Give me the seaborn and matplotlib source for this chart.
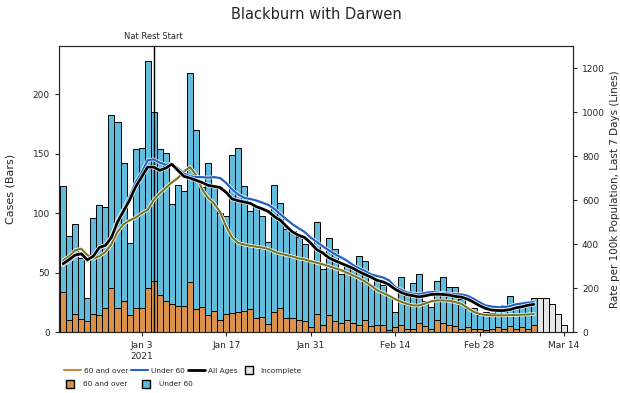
import pandas as pd
import matplotlib
matplotlib.use('Agg')
import matplotlib.pyplot as plt
import matplotlib.patheffects as pe
from matplotlib.lines import Line2D
import seaborn as sns

# daily cases, 21 Dec 2020 .. 14 Mar 2021 (last 5 days incomplete)
dates = pd.date_range('2020-12-21', '2021-03-14', freq='D')

over60_cases = [34, 10, 15, 11, 9, 15, 14, 20, 37, 20, 26, 14, 20, 20, 37, 43, 31, 26, 24, 22,
                22, 42, 19, 21, 14, 18, 10, 15, 16, 17, 18, 19, 12, 13, 7, 17, 20, 12, 12, 10,
                9, 4, 15, 6, 14, 9, 8, 10, 8, 6, 10, 5, 6, 6, 2, 4, 6, 3, 3, 8,
                5, 3, 10, 8, 6, 5, 3, 4, 3, 3, 2, 3, 4, 3, 5, 3, 4, 3, 6]
under60_cases = [89, 71, 76, 51, 20, 81, 93, 85, 146, 157, 116, 61, 134, 135, 191, 142, 123, 125, 84, 102,
                 97, 176, 151, 101, 128, 104, 90, 83, 133, 138, 105, 83, 94, 85, 69, 107, 89, 75, 73, 70,
                 65, 55, 78, 47, 65, 61, 41, 46, 47, 58, 50, 35, 38, 34, 28, 13, 40, 31, 38, 41,
                 21, 18, 33, 38, 32, 33, 25, 15, 17, 11, 15, 13, 17, 20, 25, 21, 21, 23, 23]
incomplete_cases = [29, 29, 24, 15, 6]

# 7-day rate per 100k
rate_over60 = [326, 345, 372, 379, 350, 334, 345, 364, 400, 455, 490, 508, 520, 540, 555, 600, 630, 655, 680, 700,
               730, 750, 715, 650, 610, 585, 545, 480, 430, 405, 398, 392, 388, 384, 378, 365, 356, 350, 343, 335,
               330, 322, 315, 308, 300, 290, 282, 270, 258, 245, 230, 212, 190, 178, 165, 150, 138, 128, 121, 121,
               130, 140, 144, 144, 142, 136, 128, 110, 92, 82, 78, 76, 76, 76, 77, 78, 79, 80, 82]
rate_under60 = [305, 322, 345, 355, 325, 345, 385, 392, 435, 510, 560, 615, 680, 725, 781, 785, 770, 760, 765, 745,
                720, 708, 705, 704, 702, 704, 700, 678, 648, 625, 610, 605, 598, 588, 578, 560, 535, 512, 490, 472,
                455, 430, 410, 390, 372, 355, 340, 325, 305, 290, 278, 262, 255, 248, 235, 205, 192, 180, 174, 172,
                178, 182, 180, 177, 175, 172, 171, 165, 151, 135, 121, 116, 113, 113, 118, 126, 130, 134, 136]
rate_all = [311, 330, 350, 356, 328, 345, 385, 394, 430, 500, 550, 600, 660, 705, 750, 750, 735, 745, 763, 735,
            708, 700, 690, 680, 667, 662, 657, 635, 605, 597, 591, 585, 570, 560, 548, 525, 508, 480, 455, 440,
            430, 405, 375, 360, 338, 325, 313, 302, 290, 275, 262, 250, 235, 228, 215, 195, 180, 170, 165, 160,
            165, 171, 172, 171, 168, 162, 159, 150, 136, 120, 108, 100, 98, 98, 102, 110, 115, 122, 126]

tick_dates = pd.to_datetime(['2021-01-03', '2021-01-17', '2021-01-31', '2021-02-14', '2021-02-28', '2021-03-14'])
tick_labels = ['Jan 3\n2021', 'Jan 17', 'Jan 31', 'Feb 14', 'Feb 28', 'Mar 14']
lockdown = pd.Timestamp('2021-01-05')

c_over = '#d9914c'
c_under = '#62bcdc'
c_line_over = '#767322'
c_leg_over = '#c58a45'
c_line_under = '#2361c4'

sns.set_style('ticks')
plt.rcParams['font.family'] = ['DejaVu Sans']

n = len(over60_cases)
done = dates[:n]
inc = dates[n:]

fig = plt.figure(figsize=(6.2, 3.93), dpi=100)
ax = fig.add_axes([0.095, 0.155, 0.829, 0.729])

ax.bar(done, over60_cases, width=1.0, color=c_over, edgecolor='black', linewidth=0.7)
ax.bar(done, under60_cases, bottom=over60_cases, width=1.0, color=c_under, edgecolor='black', linewidth=0.7)
ax.bar(inc, incomplete_cases, width=1.0, color='#e6e6e6', edgecolor='black', linewidth=0.7)
ax.axvline(lockdown, color='black', lw=1)
ax.text(lockdown, 245, 'Nat Rest Start', ha='center', va='bottom', fontsize=6)

ax.set_ylim(0, 241)
ax.set_xlim(dates[0] - pd.Timedelta(hours=17), dates[-1] + pd.Timedelta(hours=35))
ax.set_yticks([0, 50, 100, 150, 200])
ax.set_xticks(tick_dates)
ax.set_xticklabels(tick_labels)
ax.tick_params(labelsize=6.5, length=3)
ax.set_ylabel('Cases (Bars)', fontsize=8, labelpad=12)

ax2 = ax.twinx()
lines = pd.DataFrame({'date': done, 'over': rate_over60, 'under': rate_under60, 'all': rate_all})
halo = [pe.Stroke(linewidth=2.6, foreground='white'), pe.Normal()]
sns.lineplot(data=lines, x='date', y='over', ax=ax2, color=c_line_over, lw=1.5, path_effects=halo)
sns.lineplot(data=lines, x='date', y='under', ax=ax2, color=c_line_under, lw=1.6, path_effects=halo)
sns.lineplot(data=lines, x='date', y='all', ax=ax2, color='black', lw=2,
             path_effects=[pe.Stroke(linewidth=3.0, foreground='white'), pe.Normal()])
ax2.set_ylim(0, 1302)
ax2.set_yticks(range(0, 1201, 200))
ax2.tick_params(labelsize=6.5, length=3)
ax2.set_ylabel('Rate per 100k Population, Last 7 Days (Lines)', fontsize=7.5, labelpad=4)
ax2.set_xlabel('')
ax.set_xlabel('')

ax.set_title('Blackburn with Darwen', fontsize=10.5, pad=19)

row1 = [Line2D([], [], color=c_leg_over, lw=1.5),
        Line2D([], [], color=c_line_under, lw=1.5),
        Line2D([], [], color='black', lw=2),
        Line2D([], [], marker='s', ls='none', markersize=6, markerfacecolor='#e6e6e6', markeredgecolor='black')]
row2 = [Line2D([], [], marker='s', ls='none', markersize=6, markerfacecolor=c_over, markeredgecolor='black'),
        Line2D([], [], marker='s', ls='none', markersize=6, markerfacecolor=c_under, markeredgecolor='black')]
leg1 = fig.legend(row1, ['60 and over', 'Under 60', 'All Ages', 'Incomplete'], loc='center left',
                  bbox_to_anchor=(0.093, 0.056), ncol=4, frameon=False, fontsize=5.3,
                  handlelength=2.3, columnspacing=0.4, handletextpad=0.4)
leg2 = fig.legend(row2, ['60 and over', 'Under 60'], loc='center left',
                  bbox_to_anchor=(0.093, 0.022), ncol=2, frameon=False, fontsize=5.3,
                  handlelength=1.6, columnspacing=1.8, handletextpad=0.9)

fig.savefig('out.png', dpi=100)
